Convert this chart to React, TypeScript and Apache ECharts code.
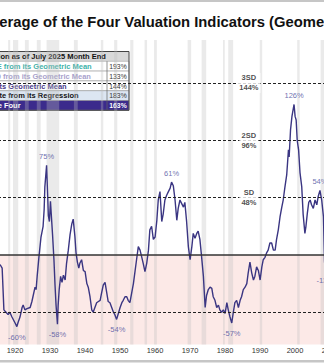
import React, { useEffect, useRef } from "react";
import * as echarts from "echarts";

// ---------------- data ----------------
const years = [
  1916.3, 1916.9, 1917.2, 1917.4, 1918.0, 1918.6, 1919.1, 1919.7, 1920.6, 1921.1,
  1921.4, 1922.0, 1922.6, 1922.9, 1923.4, 1924.0, 1924.9, 1925.4, 1925.7, 1926.3,
  1926.6, 1926.9, 1927.4, 1928.0, 1928.6, 1928.9, 1929.1, 1929.6, 1929.9, 1930.1,
  1930.4, 1930.7, 1931.3, 1931.7, 1932.0, 1932.3, 1932.7, 1932.9, 1933.2, 1933.6,
  1934.0, 1934.4, 1934.9, 1935.3, 1935.8, 1936.3, 1936.8, 1937.2, 1937.7, 1938.0,
  1938.4, 1938.8, 1939.1, 1939.6, 1940.1, 1940.6, 1941.1, 1941.5, 1942.0, 1942.5,
  1942.9, 1943.4, 1943.9, 1944.4, 1944.9, 1945.3, 1945.8, 1946.3, 1946.8, 1947.2,
  1947.7, 1948.2, 1948.7, 1949.1, 1949.6, 1950.1, 1950.6, 1951.1, 1951.5, 1952.0,
  1952.5, 1952.9, 1953.4, 1953.9, 1954.4, 1954.9, 1955.3, 1955.8, 1956.3, 1956.8,
  1957.2, 1957.7, 1958.2, 1958.7, 1959.1, 1959.6, 1960.1, 1960.6, 1961.1, 1961.5,
  1962.0, 1962.5, 1962.9, 1963.4, 1963.9, 1964.4, 1964.9, 1965.3, 1965.8, 1966.3,
  1966.8, 1967.2, 1967.7, 1968.2, 1968.7, 1969.1, 1969.6, 1970.1, 1970.6, 1971.1,
  1971.5, 1972.0, 1972.5, 1972.9, 1973.4, 1973.9, 1974.4, 1974.9, 1975.3, 1975.8,
  1976.3, 1976.8, 1977.2, 1977.7, 1978.2, 1978.7, 1979.1, 1979.6, 1980.1, 1980.6,
  1981.1, 1981.5, 1982.0, 1982.5, 1982.9, 1983.4, 1983.9, 1984.4, 1984.9, 1985.3,
  1985.8, 1986.3, 1986.8, 1987.2, 1987.7, 1988.2, 1988.7, 1989.1, 1989.6, 1990.1,
  1990.6, 1991.1, 1991.5, 1992.0, 1992.5, 1992.9, 1993.4, 1993.9, 1994.4, 1994.9,
  1995.3, 1995.8, 1996.3, 1996.8, 1997.2, 1997.7, 1998.2, 1998.7, 1998.9, 1999.3,
  1999.7, 2000.3, 2000.6, 2000.9, 2001.2, 2001.6, 2002.0, 2002.5, 2002.9, 2003.4,
  2003.7, 2004.1, 2004.5, 2004.9, 2005.3, 2005.8, 2006.3, 2006.8, 2007.2, 2007.7,
  2008.2, 2008.7, 2009.0, 2009.2, 2009.6,
];
const values = [
  -8, -11, -32, -46, -48, -50, -48, -52, -57, -60,
  -57, -52, -44, -42, -46, -45, -44, -39, -35, -27,
  -29, -18, -2, 15, 24, 38, 57, 75, 50, 33,
  28, 45, 17, -4, -25, -42, -58, -42, -29, -18,
  -23, -17, -21, -7, 4, 17, 26, 30, 15, 2,
  -6, -11, -7, -4, -13, -14, -24, -27, -35, -46,
  -48, -44, -40, -39, -38, -32, -25, -23, -32, -39,
  -40, -44, -48, -50, -54, -49, -44, -40, -38, -35,
  -35, -38, -40, -32, -24, -13, -4, 7, 4, -2,
  -7, -14, -7, 4, 21, 24, 13, 15, 29, 46,
  53, 28, 34, 46, 50, 53, 56, 61, 58, 46,
  29, 39, 46, 43, 40, 44, 28, 7, -4, 7,
  18, 14, 18, 20, 13, -2, -18, -44, -34, -29,
  -27, -28, -35, -38, -44, -42, -46, -48, -46, -49,
  -40, -46, -52, -57, -49, -40, -38, -44, -38, -35,
  -29, -27, -24, -15, -6, -15, -21, -18, -10, -13,
  -21, -10, -4, -2, 2, 4, 10, 10, 4, 4,
  13, 21, 32, 40, 46, 57, 67, 88, 82, 105,
  116, 126, 116, 113, 96, 88, 69, 57, 34, 18,
  24, 35, 44, 46, 42, 39, 46, 42, 49, 54,
  46, 32, -5, -13, 5,
];

const peakYears = [1929.6, 1965.3, 2000.3, 2007.7];
const peakValues = [75, 61, 126, 54];
const troughYears = [1921.1, 1932.7, 1949.6, 1982.5, 2009.2];
const troughValues = [-60, -58, -54, -57, -13];

const sdNames = ["3SD", "2SD", "SD"];
const sdValues = [144, 96, 48];
const meanValue = 0;
const minusSdValue = -48;

const recessionStarts = [1918.6, 1920.0, 1923.4, 1926.8, 1929.6, 1937.4, 1945.1, 1948.9, 1953.5, 1957.6, 1960.3, 1969.9, 1973.9, 1980.0, 1981.5, 1990.5, 2001.2, 2007.9];
const recessionEnds = [1919.2, 1921.5, 1924.5, 1927.9, 1933.2, 1938.5, 1945.8, 1949.8, 1954.4, 1958.3, 1961.1, 1970.9, 1975.2, 1980.5, 1982.9, 1991.2, 2001.9, 2009.5];

const xMin = 1900;
const xMax = 2025;
const xInterval = 10;

const titleText = "Average of the Four Valuation Indicators (Geometric Mean)";
const tableHeader = "Market Valuation as of July 2025 Month End";
const tableLabels = [
  "Crestmont P/E from its Geometric Mean",
  "Cyclical P/E10 from its Geometric Mean",
  "Q Ratio from its Geometric Mean",
  "S&P Composite from its Regression",
  "Average of the Four",
];
const tableValues = ["193%", "133%", "144%", "183%", "163%"];

// ---------------- layout / style ----------------
const OFF = 57; // the visible window is a crop of a wider chart
const CHART_W = 438;
const CHART_H = 363;
const SD_LABEL_X = 1987.4;
const FONT = "Arial, 'Liberation Sans', sans-serif";

const labelColors = ["#3db3aa", "#a7a1cd", "#4a3b8c", "#111111", "#ffffff"];
const rowFills = ["#ffffff", "#ffffff", "#ffffff", "#dce6f2", "#3b2b8c"];
const valueColors = ["#333333", "#333333", "#333333", "#333333", "#ffffff"];

export default function App() {
  const ref = useRef<HTMLDivElement>(null);

  useEffect(() => {
    if (!ref.current) return;
    const chart = echarts.init(ref.current, null, { renderer: "svg" });

    const lineData = years.map((y, i) => [y, values[i]]);
    const recessionAreas = recessionStarts.map((s, i) => [
      { xAxis: s, itemStyle: { color: "rgba(190,190,190,0.32)" } },
      { xAxis: recessionEnds[i] },
    ]);

    // table geometry (chart coords)
    const tX = -1;
    const tW = 187;
    const tDiv = 164;
    const tTop = 51.5;
    const rh = 9.8;
    const tableEls: any[] = [];
    tableEls.push({
      type: "rect",
      shape: { x: tX, y: tTop, width: tW, height: rh },
      style: { fill: "#d9d9d9" },
    });
    tableLabels.forEach((lab, i) => {
      const y = tTop + rh * (i + 1);
      tableEls.push({
        type: "rect",
        shape: { x: tX, y, width: tW, height: rh },
        style: { fill: rowFills[i], stroke: "#9a9a9a", lineWidth: 0.6 },
      });
      tableEls.push({
        type: "text",
        x: 7,
        y: y + rh / 2 + 0.3,
        style: {
          text: lab,
          font: `bold 7.5px ${FONT}`,
          fill: labelColors[i],
          align: "left",
          verticalAlign: "middle",
        },
      });
      tableEls.push({
        type: "text",
        x: (tDiv + tX + tW) / 2,
        y: y + rh / 2 + 0.3,
        style: {
          text: tableValues[i],
          font: `${i === 4 ? "bold " : ""}6.8px ${FONT}`,
          fill: valueColors[i],
          align: "center",
          verticalAlign: "middle",
        },
      });
    });
    tableEls.push({
      type: "text",
      x: 7,
      y: tTop + rh / 2 + 0.3,
      style: {
        text: tableHeader,
        font: `bold 7.5px ${FONT}`,
        fill: "#111",
        align: "left",
        verticalAlign: "middle",
      },
    });
    tableEls.push({
      type: "line",
      shape: { x1: tDiv, y1: tTop + rh, x2: tDiv, y2: tTop + rh * 6 },
      style: { stroke: "#666", lineWidth: 0.7 },
    });
    tableEls.push({
      type: "rect",
      shape: { x: tX, y: tTop, width: tW, height: rh * 6 },
      style: { fill: "none", stroke: "#444", lineWidth: 1 },
    });

    const option: any = {
      animation: false,
      backgroundColor: "#ffffff",
      grid: {
        left: 0,
        right: 0.5,
        top: 40,
        bottom: 18.5,
        containLabel: false,
        outerBoundsMode: "none",
      },
      xAxis: {
        type: "value",
        min: xMin,
        max: xMax,
        interval: xInterval,
        axisLine: { show: false },
        axisTick: { show: false },
        splitLine: { show: false },
        axisLabel: {
          color: "#333",
          fontSize: 7.5,
          fontFamily: FONT,
          margin: 1.5,
          padding: [0, 0, 0, 4],
          formatter: (v: number) => String(v),
        },
      },
      yAxis: { type: "value", min: -75, max: 180, show: false },
      graphic: [
        { type: "rect", shape: { x: 0, y: 0, width: CHART_W, height: 2 }, style: { fill: "#c6c6c6" }, z: 50 },
        { type: "rect", shape: { x: 0, y: 360, width: CHART_W, height: 2.5 }, style: { fill: "#c6c6c6" }, z: 50 },
        {
          type: "text",
          x: OFF - 19,
          y: 22,
          z: 50,
          style: {
            text: titleText,
            font: `bold 14.8px ${FONT}`,
            fill: "#111",
            align: "left",
            verticalAlign: "middle",
          },
        },
        { type: "group", z: 60, children: tableEls },
      ],
      series: [
        {
          type: "line",
          data: lineData,
          symbol: "none",
          silent: true,
          z: 3,
          lineStyle: { color: "#3a3582", width: 1.4 },
          markArea: {
            silent: true,
            data: [
              [{ yAxis: meanValue, itemStyle: { color: "#fce9e7" } }, { yAxis: -75 }],
              ...recessionAreas,
            ],
          },
          markLine: {
            silent: true,
            symbol: ["none", "none"],
            label: { show: false },
            data: [
              ...sdValues.map((v) => ({ yAxis: v, lineStyle: { type: [3, 2], color: "#222", width: 1.2 } })),
              { yAxis: meanValue, lineStyle: { type: "solid", color: "#333", width: 1.5 } },
              { yAxis: minusSdValue, lineStyle: { type: [3, 2], color: "#222", width: 1.2 } },
            ],
          },
        },
        {
          type: "scatter",
          silent: true,
          z: 10,
          symbolSize: 1,
          itemStyle: { color: "rgba(0,0,0,0)" },
          data: peakYears.map((y, i) => [y, peakValues[i]]),
          label: {
            show: true,
            position: "top",
            distance: 4,
            color: "#4a4d9c",
            fontSize: 7.5,
            fontFamily: FONT,
            formatter: (p: any) => `${p.value[1]}%`,
          },
        },
        {
          type: "scatter",
          silent: true,
          z: 10,
          symbolSize: 1,
          itemStyle: { color: "rgba(0,0,0,0)" },
          data: troughYears.map((y, i) => [y, troughValues[i]]),
          label: {
            show: true,
            position: "bottom",
            distance: 6,
            color: "#4a4d9c",
            fontSize: 7.5,
            fontFamily: FONT,
            formatter: (p: any) => `${p.value[1]}%`,
          },
        },
        {
          type: "scatter",
          silent: true,
          z: 12,
          symbolSize: 1,
          itemStyle: { color: "rgba(0,0,0,0)" },
          data: sdValues.map((v, i) => ({ value: [SD_LABEL_X, v], name: sdNames[i] })),
          label: {
            show: true,
            position: "inside",
            color: "#222",
            fontSize: 7.5,
            fontWeight: "bold",
            fontFamily: FONT,
            lineHeight: 10,
            backgroundColor: "#ffffff",
            padding: [0, 2],
            formatter: (p: any) => `${p.name}\n${p.value[1]}%`,
          },
        },
      ],
    };

    chart.setOption(option);
    return () => chart.dispose();
  }, []);

  return (
    <div
      style={{
        position: "absolute",
        left: 0,
        top: 0,
        width: 324,
        height: 363,
        overflow: "hidden",
        background: "#fff",
      }}
    >
      <div
        ref={ref}
        style={{ position: "absolute", left: -OFF, top: 0, width: CHART_W, height: CHART_H }}
      />
    </div>
  );
}
